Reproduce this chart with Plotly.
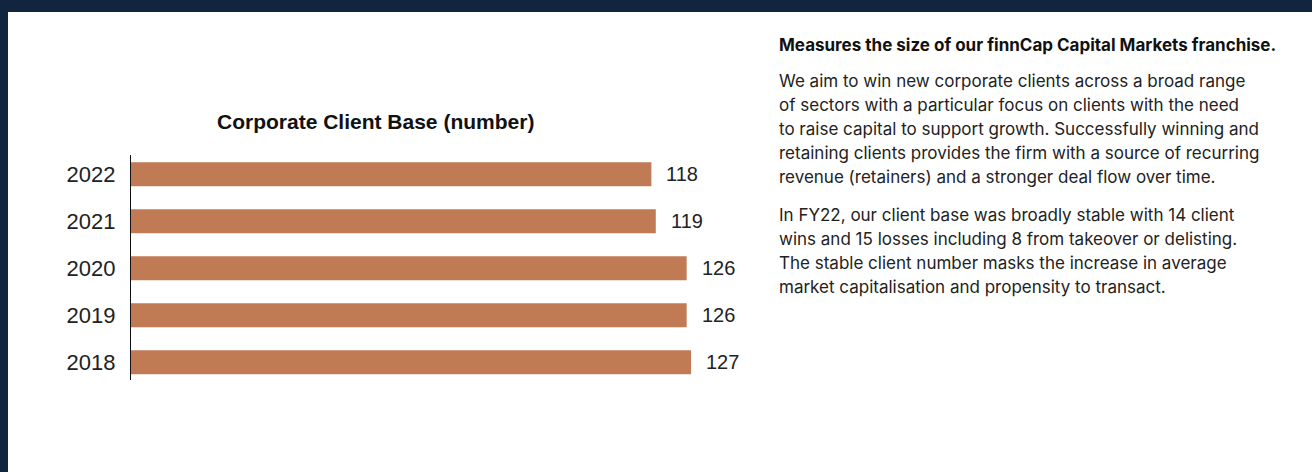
import plotly.graph_objects as go

years = ["2018", "2019", "2020", "2021", "2022"]
clients = [127, 126, 126, 119, 118]

chart_title = "Corporate Client Base (number)"
heading = "Measures the size of our finnCap Capital Markets franchise."
para1 = [
    "We aim to win new corporate clients across a broad range",
    "of sectors with a particular focus on clients with the need",
    "to raise capital to support growth. Successfully winning and",
    "retaining clients provides the firm with a source of recurring",
    "revenue (retainers) and a stronger deal flow over time.",
]
para2 = [
    "In FY22, our client base was broadly stable with 14 client",
    "wins and 15 losses including 8 from takeover or delisting.",
    "The stable client number masks the increase in average",
    "market capitalisation and propensity to transact.",
]

W, H = 1312, 472
L, T = 131, 155
PW, PH = 620, 225
R_B = H - T - PH

def px(x):
    return (x - L) / PW

def py(y):
    return (T + PH - y) / PH

BAR = "#c07b55"
NAVY = "#11253f"
TXT = "#222222"
CH_FONT = "Liberation Sans, Arial, sans-serif"
TX_FONT = "Inter, Roboto, sans-serif"
TX_X = 777

fig = go.Figure()
fig.add_trace(go.Bar(
    x=clients, y=years, orientation="h",
    marker=dict(color=BAR, line=dict(width=0)),
    hoverinfo="skip",
))

ann = []
for i, v in enumerate(clients):
    ann.append(dict(x=v, y=i, xref="x", yref="y", text=str(v), showarrow=False,
                    xanchor="left", yanchor="middle", xshift=13,
                    font=dict(family=CH_FONT, size=20, color=TXT)))

ann.append(dict(x=px(375), y=py(122), xref="paper", yref="paper", text="<b>" + chart_title + "</b>",
                showarrow=False, xanchor="center", yanchor="middle",
                font=dict(family=CH_FONT, size=21, color="#111111")))

ann.append(dict(x=px(TX_X), y=py(45), xref="paper", yref="paper", text="<b>" + heading + "</b>",
                showarrow=False, xanchor="left", yanchor="middle",
                font=dict(family=TX_FONT, size=17, color="#111111")))

for i, line in enumerate(para1):
    ann.append(dict(x=px(TX_X), y=py(81 + 24 * i), xref="paper", yref="paper", text=line,
                    showarrow=False, xanchor="left", yanchor="middle",
                    font=dict(family=TX_FONT, size=17, color=TXT)))
for i, line in enumerate(para2):
    ann.append(dict(x=px(TX_X), y=py(215 + 24 * i), xref="paper", yref="paper", text=line,
                    showarrow=False, xanchor="left", yanchor="middle",
                    font=dict(family=TX_FONT, size=17, color=TXT)))

shapes = [
    dict(type="rect", xref="paper", yref="paper", x0=px(0), x1=px(W), y0=py(0), y1=py(12),
         fillcolor=NAVY, line=dict(width=0), layer="below"),
    dict(type="rect", xref="paper", yref="paper", x0=px(0), x1=px(8), y0=py(0), y1=py(H),
         fillcolor=NAVY, line=dict(width=0), layer="below"),
]

fig.update_layout(
    width=W, height=H,
    margin=dict(l=L, r=W - L - PW, t=T, b=R_B, pad=0),
    paper_bgcolor="white", plot_bgcolor="white",
    showlegend=False, bargap=0.49,
    annotations=ann, shapes=shapes,
    xaxis=dict(range=[0, PW / 4.41], visible=False, showgrid=False, zeroline=False, fixedrange=True),
    yaxis=dict(type="category", categoryorder="array", categoryarray=years,
               range=[-0.38, 4.41], showline=True, linecolor="#111111", linewidth=1.2,
               ticks="outside", ticklen=10, tickcolor="rgba(0,0,0,0)", showgrid=False, zeroline=False,
               tickfont=dict(family=CH_FONT, size=22, color=TXT), fixedrange=True),
)

fig.write_html("out.html", config={"displayModeBar": False},
               post_script="document.body.style.margin='0';document.body.style.overflow='hidden';")
